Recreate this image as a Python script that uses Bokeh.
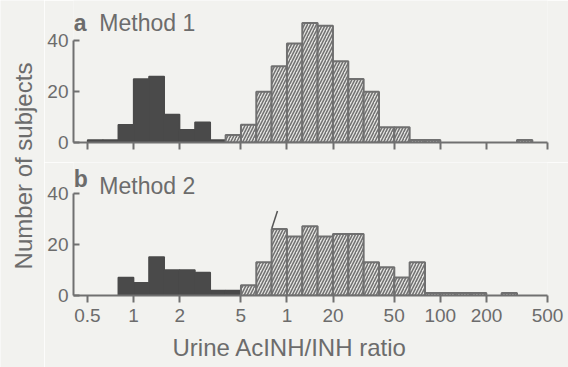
import math
from bokeh.plotting import figure
from bokeh.models import Range1d, FixedTicker, Label, ColumnDataSource, Title
from bokeh.layouts import row, column
from bokeh.embed import file_html
from bokeh.resources import INLINE

# ---- data -------------------------------------------------------------
# histogram bins: lower edges in log10(ratio) units, each 0.1 decade wide
bin_log_lo = [-0.3, -0.2, -0.1, 0.0, 0.1, 0.2, 0.3, 0.4, 0.5, 0.6,
              0.7, 0.8, 0.9, 1.0, 1.1, 1.2, 1.3, 1.4, 1.5, 1.6,
              1.7, 1.8, 1.9, 2.0, 2.1, 2.2, 2.3, 2.4, 2.5, 2.6]
bin_log_width = 0.1

# Method 1 (panel a): slow acetylators (solid) and rapid (hatched)
m1_slow  = [1, 1, 7, 25, 26, 11, 5, 8, 1, 0, 0, 0, 0, 0, 0,
            0, 0, 0, 0, 0, 0, 0, 0, 0, 0, 0, 0, 0, 0, 0]
m1_rapid = [0, 0, 0, 0, 0, 0, 0, 0, 0, 3, 7, 20, 30, 39, 47,
            46, 32, 25, 20, 6, 6, 1, 1, 0, 0, 0, 0, 0, 1, 0]
# Method 2 (panel b)
m2_slow  = [0, 0, 7, 5, 15, 10, 10, 9, 2, 2, 0, 0, 0, 0, 0,
            0, 0, 0, 0, 0, 0, 0, 0, 0, 0, 0, 0, 0, 0, 0]
m2_rapid = [0, 0, 0, 0, 0, 0, 0, 0, 0, 0, 4, 13, 26, 23, 27,
            23, 24, 24, 13, 11, 7, 13, 1, 1, 1, 1, 0, 1, 0, 0]

x_ticks = [0.5, 1, 2, 5, 10, 20, 50, 100, 200, 500]
x_tick_labels = ["0.5", "1", "2", "5", "1", "20", "50", "100", "200", "500"]
y_ticks = [0, 20, 40]

pointer_x = [7.96, 8.67]
pointer_y = [26.2, 33.0]

# ---- style ------------------------------------------------------------
BG = "#f2f2ef"
INK = "#6c6c6c"
AXIS = "#707070"
DARK = "#4a4a4a"
HATCH_BG = "#e4e4e1"
FONT = "Liberation Sans"

lefts = [10 ** v for v in bin_log_lo]
rights = [10 ** (v + bin_log_width) for v in bin_log_lo]

X_RANGE = (0.4055, 500)


def bars(counts):
    keep = [i for i, c in enumerate(counts) if c > 0]
    return ColumnDataSource(dict(
        left=[lefts[i] for i in keep],
        right=[rights[i] for i in keep],
        top=[counts[i] for i in keep],
        bottom=[0] * len(keep),
    ))


def panel(height, y_end, border_bottom, slow, rapid, show_labels):
    p = figure(width=524, height=height, x_axis_type="log",
               x_range=Range1d(*X_RANGE), y_range=Range1d(0, y_end),
               output_backend="svg", toolbar_location=None,
               min_border_left=27, min_border_right=21,
               min_border_top=0, min_border_bottom=border_bottom)
    p.background_fill_color = BG
    p.border_fill_color = BG
    p.outline_line_color = None
    p.grid.visible = False

    p.quad(left="left", right="right", top="top", bottom="bottom",
           source=bars(slow), fill_color=DARK, line_color=DARK, line_width=1.5)
    p.quad(left="left", right="right", top="top", bottom="bottom",
           source=bars(rapid), fill_color=HATCH_BG, line_color=AXIS,
           line_width=2, hatch_pattern="right_diagonal_line", hatch_color="#707070",
           hatch_weight=1.5, hatch_scale=6)

    xa = p.xaxis[0]
    xa.ticker = FixedTicker(ticks=x_ticks)
    if show_labels:
        xa.major_label_overrides = {t: s for t, s in zip(x_ticks, x_tick_labels)}
    else:
        xa.major_label_overrides = {t: "" for t in x_ticks}
    xa.minor_tick_line_color = None
    xa.axis_line_color = AXIS
    xa.axis_line_width = 2
    xa.major_tick_line_color = AXIS
    xa.major_tick_line_width = 2
    xa.major_tick_in = 0
    xa.major_tick_out = 7
    xa.major_label_text_font = FONT
    xa.major_label_text_color = INK
    xa.major_label_standoff = 6
    xa.major_label_text_font_size = "19px"

    ya = p.yaxis[0]
    ya.ticker = FixedTicker(ticks=y_ticks)
    ya.bounds = (0, 40)
    ya.minor_tick_line_color = None
    ya.axis_line_color = AXIS
    ya.axis_line_width = 2
    ya.major_tick_line_color = AXIS
    ya.major_tick_line_width = 2
    ya.major_tick_in = 6
    ya.major_tick_out = 0
    ya.major_label_standoff = 5
    ya.major_label_text_font = FONT
    ya.major_label_text_font_size = "19px"
    ya.major_label_text_color = INK
    return p


def text(p, x, y, s, size="23px", bold=False, **kw):
    p.add_layout(Label(x=x, y=y, text=s, text_font=FONT, text_font_size=size,
                       text_color=INK, text_font_style="bold" if bold else "normal",
                       text_baseline="alphabetic", **kw))


top = panel(162, 55.9, 20, m1_slow, m1_rapid, False)
text(top, 0.4075, 46.9, "a", bold=True)
text(top, 0.598, 46.9, "Method 1")

bot = panel(205, 51.94, 71, m2_slow, m2_rapid, True)
bot.line(pointer_x, pointer_y, line_color="#555555", line_width=1.5)
text(bot, 0.4075, 45.5, "b", bold=True)
text(bot, 0.598, 42.8, "Method 2")
bot.add_layout(Title(text="Urine AcINH/INH ratio", align="left", offset=99,
                     text_font=FONT, text_font_size="24px", text_font_style="normal",
                     text_color=INK, standoff=14), "below")

lab = figure(width=44, height=367, x_range=Range1d(0, 44), y_range=Range1d(0, 367),
             output_backend="svg", toolbar_location=None, min_border=0,
             min_border_left=0, min_border_right=0, min_border_top=0, min_border_bottom=0)
lab.axis.visible = False
lab.grid.visible = False
lab.outline_line_color = None
lab.background_fill_color = BG
lab.border_fill_color = BG
lab.add_layout(Label(x=22.5, y=201.5, text="Number of subjects", angle=math.pi / 2,
                     text_align="center", text_baseline="middle", text_font=FONT,
                     text_font_size="24px", text_color=INK))

layout = row(lab, column(top, bot))
open("out.html", "w").write(file_html(layout, INLINE))
